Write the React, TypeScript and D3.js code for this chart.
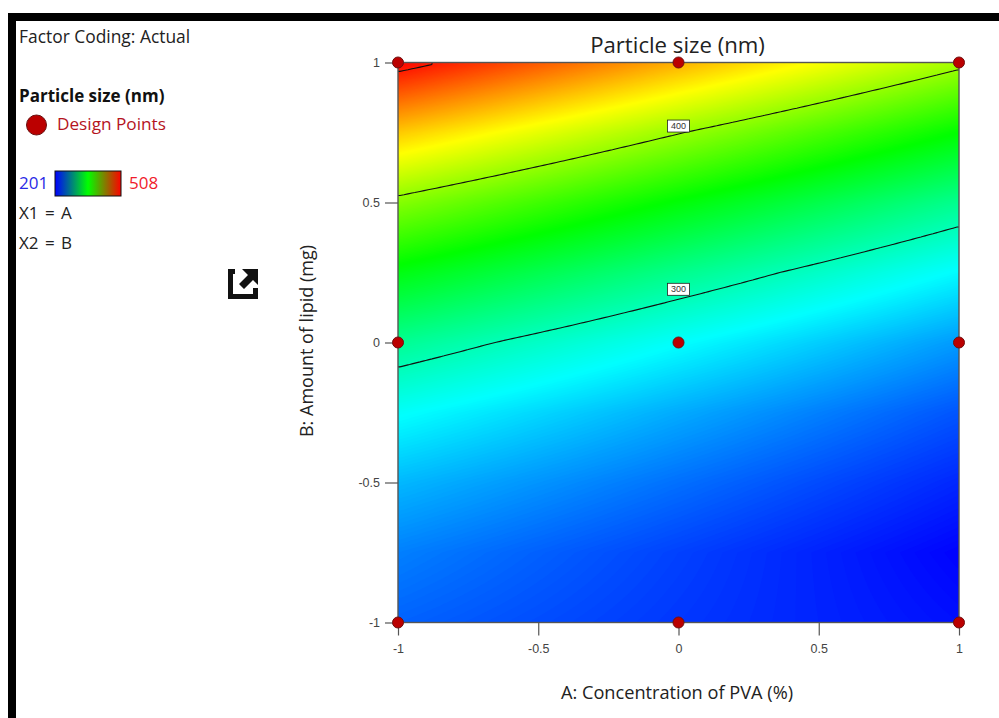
import React, { useRef, useEffect } from 'react';
import * as d3 from 'd3';

// response surface, rows run along levelsB
const levelsA = [-1, 0, 1];
const levelsB = [-1, -0.75, -0.5, -0.25, 0, 0.25, 0.5, 0.75, 1];
const sizeAtLow = [231, 240, 257, 280, 311, 350, 395, 448, 508];
const sizeAtMid = [218, 221, 235, 253, 279, 313, 353, 401, 456];
const sizeAtHigh = [206, 202, 213, 227, 248, 277, 312, 355, 405];

const sizeMin = 201;
const sizeMax = 508;
const contourLevels = [300, 400, 500];

const labelValues = [400, 300];
const labelA = [0, 0];
const labelB = [0.773, 0.19];

const ticks = [-1, -0.5, 0, 0.5, 1];
const pointsA = [-1, 0, 1, -1, 0, 1, -1, 0, 1];
const pointsB = [1, 1, 1, 0, 0, 0, -1, -1, -1];

const uiFont = '"Open Sans", "Noto Sans", sans-serif';
const tickFont = '"Liberation Sans", Arial, sans-serif';

export default function App() {
  const ref = useRef<SVGSVGElement>(null);

  useEffect(() => {
    const svg = d3.select(ref.current);
    svg.selectAll('*').remove();

    const plot = { left: 398, right: 959, top: 62.5, bottom: 622.5 };
    const x = d3.scaleLinear().domain([-1, 1]).range([plot.left, plot.right]);
    const y = d3.scaleLinear().domain([-1, 1]).range([plot.bottom, plot.top]);

    const color = d3
      .scaleLinear<string>()
      .domain(d3.range(5).map((i) => sizeMin + (i * (sizeMax - sizeMin)) / 4))
      .range(['#0000ff', '#00ffff', '#00ff00', '#ffff00', '#ff0000'])
      .clamp(true);

    // fine sampling of the table so the filled bands come out smooth
    const nx = 140;
    const ny = 140;
    const columns = [sizeAtLow, sizeAtMid, sizeAtHigh];
    const alongB = d3.scaleLinear().domain(levelsB).range(levelsB.map((_, i) => i));
    const alongA = d3.scaleLinear().domain(levelsA).range(levelsA.map((_, i) => i));
    const sizeAt = (a: number, b: number) => {
      const fa = alongA(a);
      const fb = alongB(b);
      const ia = Math.min(Math.floor(fa), levelsA.length - 2);
      const ib = Math.min(Math.floor(fb), levelsB.length - 2);
      const ta = fa - ia;
      const tb = fb - ib;
      const lo = columns[ia][ib] * (1 - tb) + columns[ia][ib + 1] * tb;
      const hi = columns[ia + 1][ib] * (1 - tb) + columns[ia + 1][ib + 1] * tb;
      return lo * (1 - ta) + hi * ta;
    };
    const grid = new Array(nx * ny);
    for (let j = 0; j < ny; j++) {
      for (let i = 0; i < nx; i++) {
        grid[j * nx + i] = sizeAt(((i + 0.5) / nx) * 2 - 1, ((j + 0.5) / ny) * 2 - 1);
      }
    }

    const gridX = d3.scaleLinear().domain([0, nx]).range([plot.left, plot.right]);
    const gridY = d3.scaleLinear().domain([0, ny]).range([plot.bottom, plot.top]);
    const path = d3.geoPath(
      d3.geoTransform({
        point(px, py) {
          this.stream.point(gridX(px), gridY(py));
        },
      })
    );

    // page frame
    svg.append('rect').attr('x', 8).attr('y', 13).attr('width', 991).attr('height', 8).attr('fill', '#000');
    svg.append('rect').attr('x', 8).attr('y', 13).attr('width', 8).attr('height', 705).attr('fill', '#000');

    // filled surface
    svg
      .append('rect')
      .attr('x', plot.left)
      .attr('y', plot.top)
      .attr('width', plot.right - plot.left)
      .attr('height', plot.bottom - plot.top)
      .attr('fill', color(sizeMin));

    const bands = d3.contours().size([nx, ny]).thresholds(d3.range(sizeMin + 1, sizeMax + 1))(grid);
    svg
      .append('g')
      .selectAll('path')
      .data(bands)
      .join('path')
      .attr('d', (d) => path(d))
      .attr('fill', (d) => color(d.value));

    // contour lines, skipping the segments that just run along the grid edge
    const onSide = (p: number[]) => p[0] <= 0 || p[0] >= nx;
    const onCap = (p: number[]) => p[1] <= 0 || p[1] >= ny;
    const sameEdge = (p: number[], q: number[]) =>
      (p[0] === q[0] && onSide(p)) || (p[1] === q[1] && onCap(p));
    // edge points sit on grid steps, level them with the neighbour to avoid a hook
    const settle = (p: number[], q: number[]) => [
      onCap(p) ? q[0] : p[0],
      onSide(p) ? q[1] : p[1],
    ];
    const lines = d3.contours().size([nx, ny]).thresholds(contourLevels)(grid);
    lines.forEach((level) => {
      level.coordinates.forEach((polygon) => {
        polygon.forEach((ring) => {
          const d = d3.path();
          d3.pairs(ring as number[][]).forEach(([p, q]) => {
            if (sameEdge(p, q)) return;
            const a = settle(p, q);
            const b = settle(q, p);
            d.moveTo(gridX(a[0]), gridY(a[1]));
            d.lineTo(gridX(b[0]), gridY(b[1]));
          });
          svg
            .append('path')
            .attr('d', d.toString())
            .attr('fill', 'none')
            .attr('stroke', '#111')
            .attr('stroke-width', 1.1);
        });
      });
    });

    // plot box
    svg
      .append('rect')
      .attr('x', plot.left)
      .attr('y', plot.top)
      .attr('width', plot.right - plot.left)
      .attr('height', plot.bottom - plot.top)
      .attr('fill', 'none')
      .attr('stroke', '#555')
      .attr('stroke-width', 1.4);

    // axes
    const xAxis = svg
      .append('g')
      .attr('transform', `translate(0, ${plot.bottom})`)
      .call(d3.axisBottom(x).tickValues(ticks).tickFormat(d3.format('')).tickSize(13).tickSizeOuter(0));
    const yAxis = svg
      .append('g')
      .attr('transform', `translate(${plot.left}, 0)`)
      .call(d3.axisLeft(y).tickValues(ticks).tickFormat(d3.format('')).tickSize(13).tickSizeOuter(0));
    [xAxis, yAxis].forEach((axis) => {
      axis.select('.domain').remove();
      axis.selectAll('line').attr('stroke', '#555').attr('stroke-width', 1.2);
      axis
        .selectAll('text')
        .text((d) => String(d))
        .attr('font-family', tickFont)
        .attr('font-size', 12.5)
        .attr('fill', '#444');
    });
    xAxis.selectAll('text').attr('y', 22);
    yAxis.selectAll('text').attr('x', -18);

    // contour labels
    labelValues.forEach((value, i) => {
      const g = svg.append('g').attr('transform', `translate(${x(labelA[i])}, ${y(labelB[i])})`);
      g.append('rect')
        .attr('x', -11)
        .attr('y', -6)
        .attr('width', 22)
        .attr('height', 12)
        .attr('fill', '#fff')
        .attr('stroke', '#222')
        .attr('stroke-width', 0.8);
      g.append('text')
        .attr('text-anchor', 'middle')
        .attr('dy', 3)
        .attr('font-family', tickFont)
        .attr('font-size', 9)
        .attr('fill', '#333')
        .text(value);
    });

    // design points
    svg
      .append('g')
      .selectAll('circle')
      .data(pointsA.map((a, i) => [a, pointsB[i]]))
      .join('circle')
      .attr('cx', (d) => x(d[0]))
      .attr('cy', (d) => y(d[1]))
      .attr('r', 5.5)
      .attr('fill', '#bb0000')
      .attr('stroke', '#701010')
      .attr('stroke-width', 1);

    const label = (
      text: string,
      px: number,
      py: number,
      size: number,
      fill = '#222',
      weight = 400
    ) =>
      svg
        .append('text')
        .attr('x', px)
        .attr('y', py)
        .attr('font-family', uiFont)
        .attr('font-size', size)
        .attr('font-weight', weight)
        .attr('fill', fill)
        .text(text);

    label('Particle size (nm)', 677.5, 52.5, 22.2, '#222').attr('text-anchor', 'middle');
    label('A: Concentration of PVA (%)', 677, 699, 18.2, '#222').attr('text-anchor', 'middle');
    label('B: Amount of lipid (mg)', 0, 0, 18, '#222')
      .attr('text-anchor', 'middle')
      .attr('transform', 'translate(313, 341) rotate(-90)');

    // left hand legend
    label('Factor Coding: Actual', 19, 43, 17.4);
    label('Particle size (nm)', 19, 102, 17, '#111', 700);
    svg
      .append('circle')
      .attr('cx', 36.5)
      .attr('cy', 125)
      .attr('r', 10)
      .attr('fill', '#bb0000')
      .attr('stroke', '#6a1010')
      .attr('stroke-width', 1);
    label('Design Points', 57, 130, 17.2, '#b5141e');
    label(String(sizeMin), 19, 189, 17, '#2a2ae6');
    label(String(sizeMax), 129, 189, 17, '#f01c2c');
    label('X1 = A', 19, 219, 17).attr('word-spacing', 2);
    label('X2 = B', 19, 249, 17).attr('word-spacing', 2);

    const gradient = svg
      .append('defs')
      .append('linearGradient')
      .attr('id', 'legend-ramp');
    gradient.append('stop').attr('offset', '0%').attr('stop-color', '#0000ff');
    gradient.append('stop').attr('offset', '50%').attr('stop-color', '#00ff00');
    gradient.append('stop').attr('offset', '100%').attr('stop-color', '#ff0000');
    svg
      .append('rect')
      .attr('x', 55)
      .attr('y', 171)
      .attr('width', 66)
      .attr('height', 25)
      .attr('fill', 'url(#legend-ramp)')
      .attr('stroke', '#111')
      .attr('stroke-width', 1);

    // open-in-window icon
    svg
      .append('path')
      .attr('d', 'M235 269H228V299H258V288H253V294H233V274H235Z')
      .attr('fill', '#111');
    svg
      .append('path')
      .attr('d', 'M242 269H258V285L253 280L244 289L239 284L248 275Z')
      .attr('fill', '#111');
  }, []);

  return (
    <svg
      ref={ref}
      width={999}
      height={718}
      viewBox="0 0 999 718"
      style={{ position: 'absolute', left: 0, top: 0, display: 'block', background: '#fff' }}
    />
  );
}
